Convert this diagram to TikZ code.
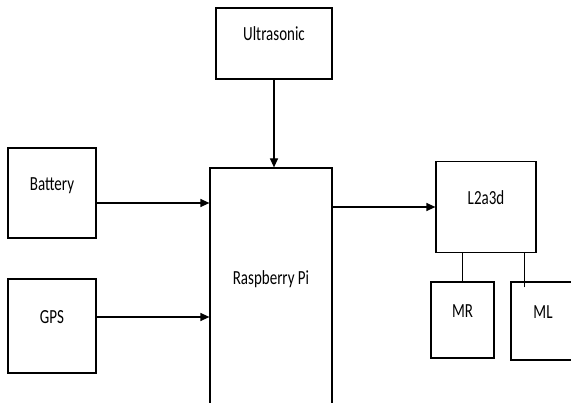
\documentclass[tikz,border=0pt]{standalone}
\usepackage{fontspec}
\setmainfont{Carlito}[FakeStretch=0.75]
\usetikzlibrary{arrows.meta}

\begin{document}
\begin{tikzpicture}[x=1pt, y=-1pt]
    % Define styles
    \tikzset{
        block/.style={draw, line width=1.2pt, inner sep=0pt, text height=10pt, text depth=15.5pt,
            font=\fontsize{20}{24}\selectfont},
        link/.style={line width=1.2pt, -{Triangle[length=9pt, width=8pt]}},
        wire/.style={line width=0.5pt}
    }
    \useasboundingbox (0,0) rectangle (571,403);

    % Blocks
    \node[block, minimum width=116pt, minimum height=71pt] (ultra) at (274,43.5) {Ultrasonic};
    \node[block, minimum width=88pt, minimum height=90pt] (battery) at (52,193) {Battery};
    \node[block, minimum width=88pt, minimum height=94pt] (gps) at (52,326) {GPS};
    \node[block, minimum width=122pt, minimum height=238pt] (pi) at (271,287) {Raspberry Pi};
    \node[block, minimum width=100pt, minimum height=91pt] (driver) at (486,207) {L2a3d};
    \node[block, minimum width=63pt, minimum height=76pt] (mr) at (462.5,320) {MR};
    \node[block, minimum width=64pt, minimum height=78pt] (ml) at (543,321) {ML};

    % Arrows
    \draw[link] (ultra.south) -- (ultra.south |- pi.north);
    \draw[link] ([yshift=-10pt]battery.east) -- ([yshift=-10pt]battery.east -| pi.west);
    \draw[link] ([yshift=9pt]gps.east) -- ([yshift=9pt]gps.east -| pi.west);
    \draw[link] (pi.east |- driver.west) -- (driver.west);

    % Motor wires
    \coordinate (mlend) at ([xshift=-19pt, yshift=-6pt]ml.north);
    \draw[wire] (mr.north) -- (mr.north |- driver.south);
    \draw[wire] (mlend) -- (mlend |- driver.south);
\end{tikzpicture}
\end{document}
